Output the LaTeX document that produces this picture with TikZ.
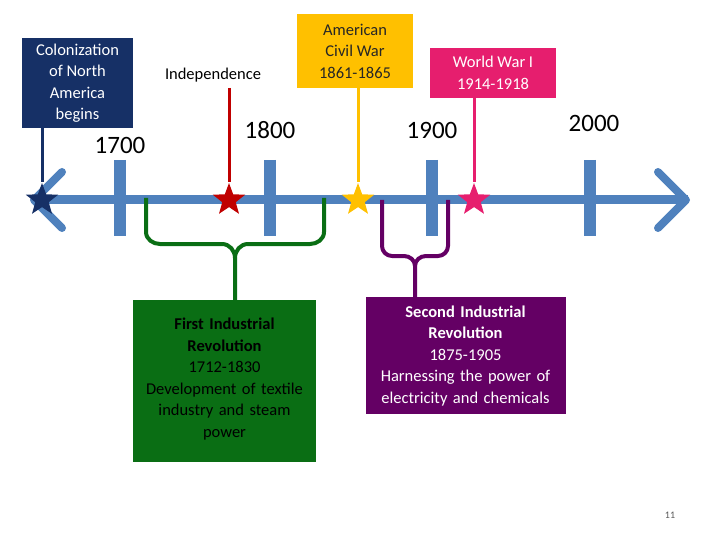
\documentclass[tikz,border=0pt]{standalone}
\usepackage{fontspec}
\setmainfont{Carlito}
\usetikzlibrary{shapes.geometric,arrows.meta}
\definecolor{tlblue}{RGB}{79,129,189}
\definecolor{navy}{RGB}{22,48,102}
\definecolor{cwy}{RGB}{255,192,0}
\definecolor{wwp}{RGB}{230,30,110}
\definecolor{ired}{RGB}{192,0,0}
\definecolor{gbox}{RGB}{10,110,20}
\definecolor{pbox}{RGB}{100,0,100}
\tikzset{
 starn/.style={star,star points=5,star point ratio=2.4,minimum size=34pt,inner sep=0pt},
 tick/.style={tlblue,line width=12pt},
 yr/.style={font=\fontsize{25}{28}\selectfont},
 lbl/.style={align=center,font=\fontsize{16.5}{21.5}\selectfont}
}
\begin{document}
\begin{tikzpicture}[x=1pt,y=-1pt]
\useasboundingbox (0,0) rectangle (720,540);
% ticks
\foreach \x in {120,270,432,590} \draw[tick] (\x,160) -- (\x,236);
% main line
\coordinate (L) at (34,200); \coordinate (R) at (688,200);
\draw[tlblue,line width=9pt] (L) -- (R);
\draw[tlblue,line width=8pt,line cap=round,line join=round] (62,172) -- (34,200) -- (62,228);
\draw[tlblue,line width=8pt,line cap=round,line join=round] (658,172) -- (686,200) -- (658,228);
% boxes
\node[fill=navy,text=white,lbl,minimum width=111pt,minimum height=90pt,inner sep=2pt] (col) at (77.5,83) {Colonization\\of North\\America\\begins};
\node[lbl] (ind) at (213,75) {Independence};
\node[fill=cwy,lbl,text=black!85,minimum width=116pt,minimum height=74pt] (cw) at (355,51) {American\\Civil War\\1861-1865};
\node[fill=wwp,text=white,lbl,minimum width=126pt,minimum height=50pt] (ww) at (493,73) {World War I\\1914-1918};
% stars
\node[starn,fill=navy] (s1) at (42,200) {};
\node[starn,fill=ired] (s2) at (229,200) {};
\node[starn,fill=cwy] (s3) at (358,200) {};
\node[starn,fill=wwp] (s4) at (474,200) {};
\draw[navy,line width=3pt] (42,128) -- (s1);
\draw[ired,line width=3pt] (229,88) -- (s2);
\draw[cwy,line width=3pt] (358,88) -- (s3);
\draw[wwp,line width=3pt] (474,98) -- (s4);
% years
\node[yr] at (120,145) {1700};
\node[yr] at (270,130) {1800};
\node[yr] at (432,130) {1900};
\node[yr] at (594,123) {2000};
% info boxes
\node[fill=gbox,text=black,lbl,minimum width=183pt,minimum height=162pt,text width=178pt,anchor=north,inner sep=2pt] (g) at (224.5,300) {\\[-14pt]\textbf{First Industrial}\\\textbf{Revolution}\\1712-1830\\Development of textile\\industry and steam\\power\\[22pt]};
\node[fill=pbox,text=white,lbl,minimum width=199pt,minimum height=117pt,text width=196pt,anchor=north,inner sep=2pt] (p) at (465.5,297) {\textbf{Second Industrial}\\\textbf{Revolution}\\1875-1905\\Harnessing the power of\\electricity and chemicals};
% braces
\coordinate (gt) at (235,300);
\draw[gbox,line width=4pt,line join=round] (146,198) -- (146,232) to[out=-90,in=180] (160,244) -- (222,244) to[out=0,in=90] (235,258) -- (gt);
\draw[gbox,line width=4pt,line join=round] (324,198) -- (324,232) to[out=-90,in=0] (310,244) -- (248,244) to[out=180,in=90] (235,258);
\draw[pbox,line width=4pt,line join=round] (382,200) -- (382,246) to[out=-90,in=180] (392,256) -- (404,256) to[out=0,in=90] (415,266) -- (415,297);
\draw[pbox,line width=4pt,line join=round] (448,200) -- (448,246) to[out=-90,in=0] (438,256) -- (426,256) to[out=180,in=90] (415,266);
\node[font=\fontsize{10}{12}\selectfont,text=gray!70!black] (pg) at (670,515) {11};
\end{tikzpicture}
\end{document}
